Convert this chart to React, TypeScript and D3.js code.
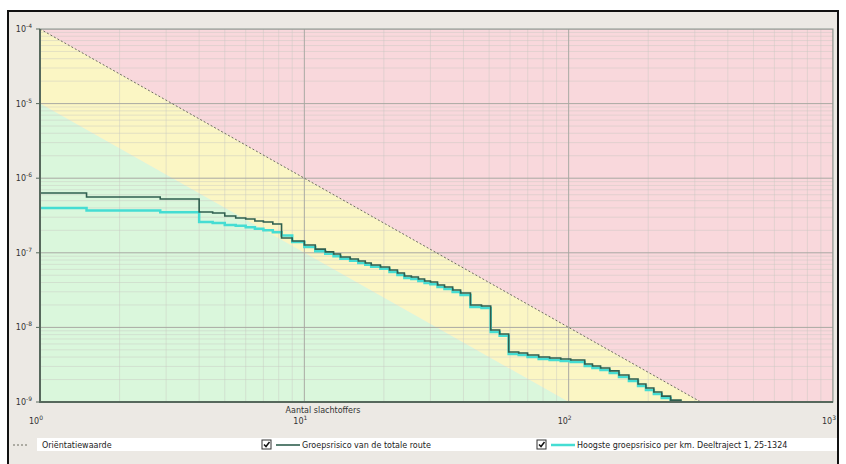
import { useMemo } from "react";
import * as d3 from "d3";

// aantal slachtoffers (N) en cumulatieve frequentie (F) per jaar
const casualties = [1, 1.5, 2.85, 4, 4.5, 5, 5.5, 6, 6.5, 7, 7.6, 8.2, 9, 10, 11, 12, 12.9, 13.7, 14.9, 16, 17, 17.9, 19.4, 21, 22.5, 23.9, 25.4, 27, 28.5, 30, 31.9, 33.9, 36.4, 39, 42.5, 46.8, 50.7, 54.8, 59.3, 64.7, 69.9, 77, 84.7, 93.3, 101.8, 115, 123, 132, 143, 155, 169, 183, 196, 210, 225, 243, 266];
const totalRoute = [6.34e-7, 5.6e-7, 5.26e-7, 3.52e-7, 3.42e-7, 3.11e-7, 2.93e-7, 2.84e-7, 2.67e-7, 2.59e-7, 2.43e-7, 1.58e-7, 1.44e-7, 1.27e-7, 1.12e-7, 1.03e-7, 9.64e-8, 8.79e-8, 8.26e-8, 7.76e-8, 7.3e-8, 6.86e-8, 6.45e-8, 5.88e-8, 5.36e-8, 4.89e-8, 4.74e-8, 4.46e-8, 4.19e-8, 4.06e-8, 3.7e-8, 3.48e-8, 3.17e-8, 2.89e-8, 2.0e-8, 1.94e-8, 9.23e-9, 8.16e-9, 4.68e-9, 4.54e-9, 4.27e-9, 4.01e-9, 3.89e-9, 3.77e-9, 3.66e-9, 3.23e-9, 3.04e-9, 2.86e-9, 2.61e-9, 2.3e-9, 2.03e-9, 1.74e-9, 1.54e-9, 1.36e-9, 1.2e-9, 1.06e-9, 9.1e-10];
const perKm = [4.0e-7, 3.7e-7, 3.5e-7, 2.59e-7, 2.5e-7, 2.36e-7, 2.3e-7, 2.2e-7, 2.1e-7, 2.0e-7, 1.88e-7, 1.7e-7, 1.4e-7, 1.2e-7, 1.05e-7, 9.7e-8, 9.0e-8, 8.3e-8, 7.8e-8, 7.3e-8, 6.9e-8, 6.5e-8, 6.1e-8, 5.55e-8, 5.05e-8, 4.6e-8, 4.45e-8, 4.2e-8, 3.95e-8, 3.8e-8, 3.48e-8, 3.27e-8, 2.98e-8, 2.72e-8, 1.88e-8, 1.82e-8, 8.7e-9, 7.7e-9, 4.4e-9, 4.27e-9, 4.02e-9, 3.77e-9, 3.66e-9, 3.55e-9, 3.44e-9, 3.04e-9, 2.86e-9, 2.69e-9, 2.45e-9, 2.16e-9, 1.91e-9, 1.64e-9, 1.45e-9, 1.28e-9, 1.13e-9, 1.0e-9, 8.6e-10];

const xTicks = [1, 10, 100, 1000];
const xTickExp = ["0", "1", "2", "3"];
const yTicks = [1e-4, 1e-5, 1e-6, 1e-7, 1e-8, 1e-9];
const yTickExp = ["-4", "-5", "-6", "-7", "-8", "-9"];

const orientationFactor = 1e-4; // F = 1e-4 / N^2
const legendLabels = [
  "Oriëntatiewaarde",
  "Groepsrisico van de totale route",
  "Hoogste groepsrisico per km. Deeltraject 1, 25-1324",
];

const W = 846;
const H = 464;
const plot = { left: 40, right: 833, top: 29, bottom: 402 };
const font = "Tahoma, 'DejaVu Sans', sans-serif";

const Sup = ({ x, y, exp, anchor }: { x: number; y: number; exp: string; anchor: string }) => (
  <text x={x} y={y} fontSize={8} fontFamily={font} fill="#333" textAnchor={anchor}>
    10
    <tspan fontSize={6} dy={-4}>{exp}</tspan>
  </text>
);

const Check = ({ x, y }: { x: number; y: number }) => (
  <g transform={`translate(${x},${y})`}>
    <rect width={9} height={9} fill="#fff" stroke="#333" strokeWidth={1} />
    <path d="M2,4.5 L4,6.5 L7.5,2" fill="none" stroke="#111" strokeWidth={1.5} />
  </g>
);

export default function App() {
  const x = useMemo(() => d3.scaleLog().domain([1, 1000]).range([plot.left, plot.right]), []);
  const y = useMemo(() => d3.scaleLog().domain([1e-9, 1e-4]).range([plot.bottom, plot.top]), []);

  const ov = (n: number, k: number) => (orientationFactor * k) / (n * n);
  const nMax = 1000;
  const poly = (pts: [number, number][]) => "M" + pts.map(([n, f]) => `${x(n)},${y(f)}`).join("L") + "Z";

  // zones: rood boven oriëntatiewaarde, geel tot factor 10 eronder, groen daaronder
  const big = 1e-2;
  const tiny = 1e-14;
  const redZone = poly([[1, big], [nMax, big], [nMax, ov(nMax, 1)], [1, ov(1, 1)]]);
  const yellowZone = poly([[1, ov(1, 1)], [nMax, ov(nMax, 1)], [nMax, ov(nMax, 0.1)], [1, ov(1, 0.1)]]);
  const greenZone = poly([[1, ov(1, 0.1)], [nMax, ov(nMax, 0.1)], [nMax, tiny], [1, tiny]]);

  const line = d3
    .line<[number, number]>()
    .x((d) => x(d[0]))
    .y((d) => y(d[1]))
    .curve(d3.curveStepAfter);

  const totalPath = line(casualties.map((n, i) => [n, totalRoute[i]]));
  const kmPath = line(casualties.map((n, i) => [n, perKm[i]]));
  const ovPath = d3
    .line<number>()
    .x((n) => x(n))
    .y((n) => y(ov(n, 1)))([1, Math.pow(10, 2.5)]);

  const minorX: number[] = [];
  for (let dec = 1; dec < 1000; dec *= 10) for (let k = 2; k <= 9; k++) minorX.push(dec * k);
  const minorY: number[] = [];
  for (let e = -9; e < -4; e++) for (let k = 2; k <= 9; k++) minorY.push(k * Math.pow(10, e));

  return (
    <div style={{ position: "absolute", left: 0, top: 0 }}>
      <svg width={W} height={H} style={{ display: "block" }}>
        <rect x={0} y={0} width={W} height={H} fill="#fff" />
        <rect x={8} y={11} width={830} height={470} fill="#ece9e4" stroke="#111" strokeWidth={2} />
        <defs>
          <clipPath id="plotclip">
            <rect x={plot.left} y={plot.top} width={plot.right - plot.left} height={plot.bottom - plot.top} />
          </clipPath>
        </defs>
        <g clipPath="url(#plotclip)">
          <path d={redZone} fill="#f9d8dc" />
          <path d={yellowZone} fill="#fbf6c4" />
          <path d={greenZone} fill="#daf7dc" />
          {minorX.map((n) => (
            <line key={"mx" + n} x1={x(n)} x2={x(n)} y1={plot.top} y2={plot.bottom} stroke="#c8c8c0" strokeOpacity={0.45} />
          ))}
          {minorY.map((f) => (
            <line key={"my" + f} x1={plot.left} x2={plot.right} y1={y(f)} y2={y(f)} stroke="#c8c8c0" strokeOpacity={0.45} />
          ))}
          {xTicks.map((n) => (
            <line key={"gx" + n} x1={x(n)} x2={x(n)} y1={plot.top} y2={plot.bottom} stroke="#a9a9a3" />
          ))}
          {yTicks.map((f) => (
            <line key={"gy" + f} x1={plot.left} x2={plot.right} y1={y(f)} y2={y(f)} stroke="#a9a9a3" />
          ))}
          <path d={ovPath ?? ""} fill="none" stroke="#6d6d60" strokeWidth={1} strokeDasharray="2,2" />
          <path d={kmPath ?? ""} fill="none" stroke="#45ddd3" strokeWidth={2.5} />
          <path d={totalPath ?? ""} fill="none" stroke="#2f5f4f" strokeWidth={1.6} />
        </g>
        <rect x={plot.left} y={plot.top} width={plot.right - plot.left} height={plot.bottom - plot.top} fill="none" stroke="#8a958d" />
        <line x1={plot.left} x2={plot.left} y1={plot.top} y2={plot.bottom + 1} stroke="#56685c" strokeWidth={2} />
        <line x1={plot.left} x2={plot.right} y1={plot.bottom} y2={plot.bottom} stroke="#56685c" strokeWidth={2} />

        {yTicks.map((f, i) => (
          <g key={"yt" + f}>
            <line x1={plot.left - 4} x2={plot.left} y1={y(f)} y2={y(f)} stroke="#56685c" />
            <Sup x={plot.left - 8} y={y(f) + 3} exp={yTickExp[i]} anchor="end" />
          </g>
        ))}
        {xTicks.map((n, i) => (
          <Sup key={"xt" + n} x={x(n) - 4} y={424} exp={xTickExp[i]} anchor="middle" />
        ))}
        <text x={323} y={413} fontSize={8} fontFamily={font} fill="#333" textAnchor="middle">
          Aantal slachtoffers
        </text>

        <rect x={37} y={438} width={800} height={13} fill="#fff" />
        <line x1={13} x2={29} y1={445} y2={445} stroke="#6d6d60" strokeDasharray="2,2" />
        <text x={42} y={448} fontSize={8} fontFamily={font} fill="#222">{legendLabels[0]}</text>
        <Check x={262} y={440} />
        <line x1={276} x2={300} y1={445} y2={445} stroke="#2f5f4f" strokeWidth={1.6} />
        <text x={302} y={448} fontSize={8} fontFamily={font} fill="#222">{legendLabels[1]}</text>
        <Check x={537} y={440} />
        <line x1={551} x2={575} y1={445} y2={445} stroke="#45ddd3" strokeWidth={2.5} />
        <text x={577} y={448} fontSize={8} fontFamily={font} fill="#222">{legendLabels[2]}</text>
      </svg>
    </div>
  );
}
